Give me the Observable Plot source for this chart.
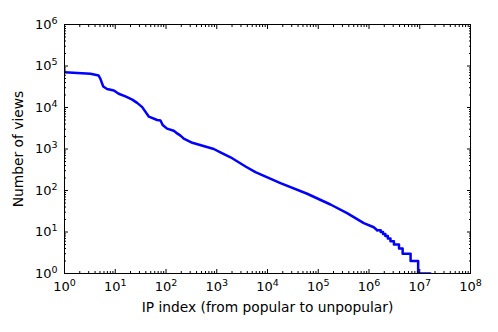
<!DOCTYPE html>
<html><head><meta charset="utf-8">
<script src="https://cdn.jsdelivr.net/npm/d3@7"></script>
<script src="https://cdn.jsdelivr.net/npm/@observablehq/plot@0.6"></script>
<style>body{margin:0;background:#fff;} svg{font-family:"DejaVu Sans";}</style>
</head><body><div id="chart"></div>
<script>
// Smooth head of the rank/views curve
const headRank = [1, 3.25, 4.7, 5.1, 5.8, 6.9, 9.4, 11.7, 15.9, 21.6, 27, 34, 46, 67, 78, 86, 105, 142, 160, 193, 224, 330, 875, 1180, 1870, 3690, 5780, 18000, 60500, 174000, 370000, 790000, 1240000, 1450000];
const headViews = [71000, 65000, 59000, 49000, 32000, 28000, 25700, 21400, 18500, 15500, 12900, 10200, 6000, 5000, 4870, 3800, 3100, 2750, 2450, 2100, 1780, 1410, 1000, 830, 632, 379, 276, 150, 83.5, 46, 28.4, 16.3, 13, 11];
// Stepped tail (integer view counts, rank where each starts)
const tailRank = [1450000, 1700000, 1890000, 2100000, 2350000, 2650000, 3100000, 3900000, 4600000, 6600000, 9300000, 16200000];
const tailViews = [11, 10, 9, 8, 7, 6, 5, 4, 3, 2, 1, 1];
const xTicks = [1, 10, 100, 1e3, 1e4, 1e5, 1e6, 1e7, 1e8];
const yTicks = [1, 10, 100, 1e3, 1e4, 1e5, 1e6];
const xLabel = "IP index (from popular to unpopular)";
const yLabel = "Number of views";

const head = headRank.map((r, i) => ({rank: r, views: headViews[i]}));
const tail = tailRank.map((r, i) => ({rank: r, views: tailViews[i]}));
const minor = (lo, hi) => { const out = []; for (let e = lo; e < hi; e++) for (let k = 2; k < 10; k++) out.push(k * 10 ** e); return out; };
const xMinor = minor(0, 8), yMinor = minor(0, 6);
const fmt = d => "10^" + Math.round(Math.log10(d));
const none = () => "";
const blue = "#0000ff";

const chart = Plot.plot({
  width: 498, height: 332,
  marginLeft: 64, marginRight: 28, marginTop: 24, marginBottom: 59,
  style: {fontFamily: "DejaVu Sans", fontSize: "13px", color: "#000", background: "#fff"},
  x: {type: "log", domain: [1, 1e8]},
  y: {type: "log", domain: [1, 1e6]},
  marks: [
    Plot.line(head, {x: "rank", y: "views", stroke: blue, strokeWidth: 2.5, clip: true}),
    Plot.line(tail, {x: "rank", y: "views", curve: "step-after", stroke: blue, strokeWidth: 2.5, clip: true}),
    Plot.frame({stroke: "#000", strokeWidth: 1}),
    Plot.axisX({anchor: "bottom", ticks: xTicks, tickSize: -4, tickPadding: 12, tickFormat: fmt, label: xLabel, labelAnchor: "center", labelArrow: "none", labelOffset: 38}),
    Plot.axisX({anchor: "top", ticks: xTicks, tickSize: -4, tickFormat: none, label: null}),
    Plot.axisX({anchor: "bottom", ticks: xMinor, tickSize: -2, tickFormat: none, label: null}),
    Plot.axisX({anchor: "top", ticks: xMinor, tickSize: -2, tickFormat: none, label: null}),
    Plot.axisY({anchor: "left", ticks: yTicks, tickSize: -4, tickPadding: 11, tickFormat: fmt, label: yLabel, labelAnchor: "center", labelArrow: "none", labelOffset: 51}),
    Plot.axisY({anchor: "right", ticks: yTicks, tickSize: -4, tickFormat: none, label: null}),
    Plot.axisY({anchor: "left", ticks: yMinor, tickSize: -2, tickFormat: none, label: null}),
    Plot.axisY({anchor: "right", ticks: yMinor, tickSize: -2, tickFormat: none, label: null})
  ]
});

for (const t of chart.querySelectorAll('g[aria-label$="tick label"] text')) {
  const m = t.textContent.match(/^10\^(-?\d+)$/);
  if (!m) continue;
  t.textContent = "10";
  const sp = document.createElementNS("http://www.w3.org/2000/svg", "tspan");
  sp.setAttribute("dy", "-0.5em");
  sp.setAttribute("font-size", "9.5");
  sp.textContent = m[1];
  t.appendChild(sp);
}
for (const g of chart.querySelectorAll('g[aria-label$="-axis label"]')) g.setAttribute("font-size", "13.8");
document.getElementById("chart").appendChild(chart);
</script>
</body></html>
